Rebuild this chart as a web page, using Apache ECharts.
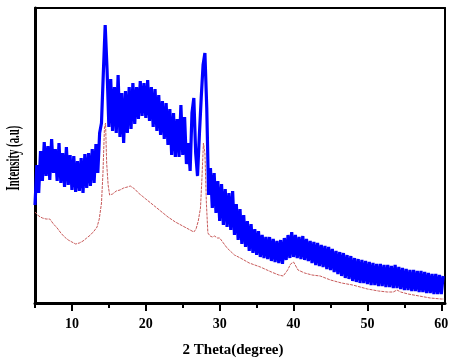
<!DOCTYPE html>
<html><head><meta charset="utf-8">
<script src="https://cdn.jsdelivr.net/npm/echarts@6/dist/echarts.min.js"></script>
<style>html,body{margin:0;padding:0;background:#fff}#c{width:461px;height:363px}</style>
</head><body><div id="c"></div>
<script>
// Blue sample (2θ, intensity a.u.)
var blueTheta = [
5.00,5.25,5.50,5.75,6.00,6.25,6.50,6.75,7.00,7.25,7.50,7.75,8.00,8.25,8.50,8.75,9.00,9.25,9.50,9.75,
10.00,10.25,10.50,10.75,11.00,11.25,11.50,11.75,12.00,12.25,12.50,12.75,13.00,13.25,13.50,13.75,14.00,14.25,14.50,14.75,
15.00,15.25,15.50,15.75,16.00,16.25,16.50,16.75,17.00,17.25,17.50,17.75,18.00,18.25,18.50,18.75,19.00,19.25,19.50,19.75,
20.00,20.25,20.50,20.75,21.00,21.25,21.50,21.75,22.00,22.25,22.50,22.75,23.00,23.25,23.50,23.75,24.00,24.25,24.50,24.75,
25.00,25.25,25.50,25.75,26.00,26.25,26.50,26.75,27.00,27.25,27.50,27.75,28.00,28.25,28.50,28.75,29.00,29.25,29.50,29.75,
30.00,30.25,30.50,30.75,31.00,31.25,31.50,31.75,32.00,32.25,32.50,32.75,33.00,33.25,33.50,33.75,34.00,34.25,34.50,34.75,
35.00,35.25,35.50,35.75,36.00,36.25,36.50,36.75,37.00,37.25,37.50,37.75,38.00,38.25,38.50,38.75,39.00,39.25,39.50,39.75,
40.00,40.25,40.50,40.75,41.00,41.25,41.50,41.75,42.00,42.25,42.50,42.75,43.00,43.25,43.50,43.75,44.00,44.25,44.50,44.75,
45.00,45.25,45.50,45.75,46.00,46.25,46.50,46.75,47.00,47.25,47.50,47.75,48.00,48.25,48.50,48.75,49.00,49.25,49.50,49.75,
50.00,50.25,50.50,50.75,51.00,51.25,51.50,51.75,52.00,52.25,52.50,52.75,53.00,53.25,53.50,53.75,54.00,54.25,54.50,54.75,
55.00,55.25,55.50,55.75,56.00,56.25,56.50,56.75,57.00,57.25,57.50,57.75,58.00,58.25,58.50,58.75,59.00,59.25,59.50,59.75,
60.00,60.25];
var blueI = [
98,138,110,152,122,161,127,157,123,164,130,154,122,160,120,150,116,156,118,148,
113,147,111,142,112,145,110,149,115,150,117,154,120,159,130,170,180,230,278,234,
176,224,172,216,170,228,166,210,160,212,170,216,174,220,179,216,184,222,187,220,
185,223,182,216,176,214,172,208,168,202,164,200,158,194,148,190,146,184,146,198,
148,186,139,160,132,190,205,150,127,168,205,238,250,195,108,135,95,130,90,122,
82,119,78,114,76,110,73,112,68,99,63,94,59,88,56,82,52,79,50,74,
48,72,46,68,45,66,44,66,42,64,41,62,40,63,39,65,43,68,45,71,
46,68,45,66,44,67,43,64,42,62,40,61,38,60,37,58,36,57,34,56,
33,54,31,52,29,51,27,50,25,48,24,47,22,45,21,44,20,43,20,42,
19,41,18,40,18,39,17,39,17,38,16,38,16,37,15,38,15,36,14,35,
13,34,13,33,12,33,12,32,11,32,11,31,10,30,10,29,9,29,9,28,
9,27];
// Red sample (2θ, intensity a.u.)
var redTheta = [5.0,5.5,6.0,6.5,7.0,7.5,8.0,8.5,9.0,9.5,10.0,10.5,11.0,11.5,12.0,12.5,13.0,13.4,13.7,14.0,
14.2,14.4,14.55,14.7,14.9,15.1,15.5,16.0,16.5,17.0,17.5,17.9,18.5,19.0,19.5,20.0,21.0,22.0,23.0,24.0,
25.0,26.0,26.5,26.8,27.1,27.4,27.6,27.8,28.0,28.2,28.4,28.7,29.0,29.3,29.7,30.0,30.5,31.0,32.0,32.8,
34.0,35.5,37.0,38.0,38.6,39.2,39.6,40.0,40.3,40.6,41.5,42.5,43.6,45.0,46.5,48.0,50.0,51.5,52.7,53.5,
54.0,54.5,55.5,57.0,58.5,60.0,60.4];
var redI = [91,87,85,84,84,79,75,70,66,63,61,59,60,62,65,68,72,76,84,100,
130,175,180,140,118,108,109,112,113,115,116,117,114,110,107,104,98,92,86,81,
77,73,71,74,82,95,125,160,150,100,70,67,66,67,65,65,60,55,48,45,
40,36,31,28,27,33,39,41,37,33,30,28,27,23,20,18,14,12,11,11,
13,11,9,7,5,4,4];
var majorTicks = [10,20,30,40,50,60];
var minorTicks = [5,15,25,35,45,55];

function pairs(xs, ys){ var out=[]; for(var i=0;i<xs.length;i++) out.push([xs[i], ys[i]]); return out; }

var serif = '"Liberation Serif","Times New Roman",serif';
var chart = echarts.init(document.getElementById('c'), null, {renderer:'canvas'});
chart.setOption({
  animation:false,
  backgroundColor:'#fff',
  grid:{left:35, right:16, top:8, bottom:60, containLabel:false, outerBoundsMode:'none'},
  graphic:[
    {type:'text', x:14, y:158, rotation:Math.PI/2, scaleX:0.6,
     style:{text:'Intensity (a.u)', fill:'#000', font:'bold 18px ' + serif, align:'center', verticalAlign:'middle'}}
  ],
  xAxis:[
    {type:'value', min:5, max:60.5, position:'bottom',
     axisLine:{show:true, lineStyle:{color:'#000', width:3}},
     axisTick:{show:true, customValues:majorTicks, length:8, lineStyle:{color:'#000', width:2}},
     axisLabel:{show:true, customValues:majorTicks, color:'#000', fontFamily:serif, fontWeight:'bold', fontSize:14, margin:14},
     splitLine:{show:false},
     name:'2 Theta(degree)', nameLocation:'middle', nameGap:40,
     nameTextStyle:{color:'#000', fontFamily:serif, fontWeight:'bold', fontSize:15, padding:[0,14,0,0]}},
    {type:'value', min:5, max:60.5, position:'bottom', gridIndex:0,
     axisLine:{show:false},
     axisTick:{show:true, customValues:minorTicks, length:5, lineStyle:{color:'#000', width:2}},
     axisLabel:{show:false}, splitLine:{show:false}},
    {type:'value', min:5, max:60.5, position:'top',
     axisLine:{show:true, lineStyle:{color:'#000', width:2}},
     axisTick:{show:false}, axisLabel:{show:false}, splitLine:{show:false}}
  ],
  yAxis:[
    {type:'value', min:0, max:295, position:'left',
     axisLine:{show:true, lineStyle:{color:'#000', width:3}},
     axisTick:{show:false}, axisLabel:{show:false}, splitLine:{show:false}},
    {type:'value', min:0, max:295, position:'right',
     axisLine:{show:true, lineStyle:{color:'#000', width:2}},
     axisTick:{show:false}, axisLabel:{show:false}, splitLine:{show:false}}
  ],
  series:[
    {type:'line', xAxisIndex:0, yAxisIndex:0, data:pairs(redTheta, redI), showSymbol:false,
     lineStyle:{color:'#c85a5a', width:1, type:[3,1]}, z:2},
    {type:'line', xAxisIndex:0, yAxisIndex:0, data:pairs(blueTheta, blueI), showSymbol:false,
     lineStyle:{color:'#0000ff', width:3.2, join:'bevel'}, z:3}
  ]
});
</script></body></html>
